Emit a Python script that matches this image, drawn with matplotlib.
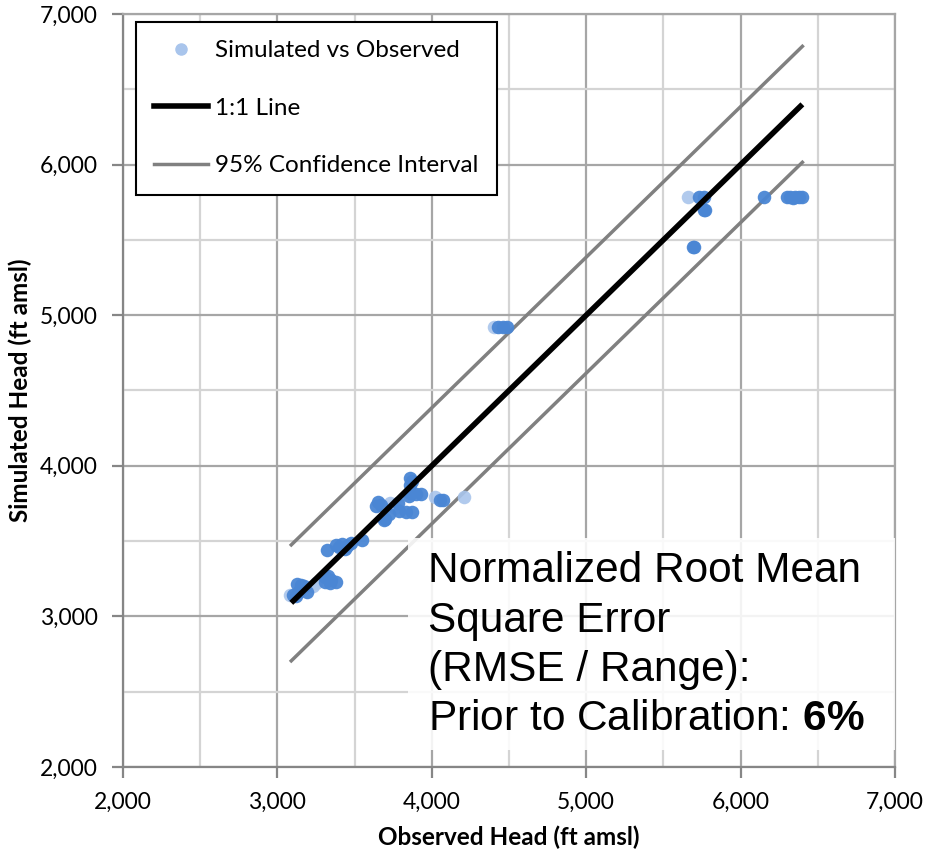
import matplotlib.pyplot as plt
from matplotlib.lines import Line2D
from matplotlib.patches import Rectangle
from matplotlib.ticker import MultipleLocator, FuncFormatter

plt.rcParams['mathtext.fontset'] = 'custom'
plt.rcParams['mathtext.rm'] = 'Liberation Sans'
plt.rcParams['mathtext.bf'] = 'Liberation Sans:bold'

# Observed / simulated heads (ft amsl)
obs_main = [3100, 3120, 3140, 3150, 3170, 3130, 3190, 3310, 3330, 3350, 3380, 3340, 3310,
            3320, 3380, 3420, 3450, 3440, 3400, 3550, 3480,
            3650, 3670, 3640, 3700, 3720, 3690, 3780, 3790, 3830, 3870, 3850, 3860, 3860,
            3860, 3870, 3930, 3900, 4050, 4070,
            4430, 4460, 4490,
            5730, 5760, 5770, 5760, 5690, 5700, 6150, 6300, 6320, 6350, 6380, 6400, 6340]
sim_main = [3140, 3135, 3170, 3210, 3200, 3215, 3160, 3260, 3265, 3240, 3230, 3225, 3230,
            3440, 3475, 3480, 3470, 3445, 3460, 3505, 3490,
            3760, 3740, 3730, 3650, 3680, 3640, 3750, 3700, 3695, 3695, 3800, 3820, 3870,
            3920, 3900, 3815, 3810, 3770, 3770,
            4920, 4920, 4920,
            5785, 5785, 5700, 5700, 5450, 5455, 5785, 5785, 5785, 5785, 5785, 5785, 5780]
obs_light = [3250, 3080, 3230, 3730, 3760, 4020, 4210, 4400, 5660]
sim_light = [3220, 3140, 3200, 3750, 3720, 3790, 3795, 4920, 5785]

line_x = [3090, 6400]
ci_offset = 385

x_ticks = [2000, 3000, 4000, 5000, 6000, 7000]
y_ticks = [2000, 3000, 4000, 5000, 6000, 7000]

fig = plt.figure(figsize=(9.33, 8.57), dpi=100)
ax = fig.add_axes([0.1318, 0.105, 0.8275, 0.8787])

blue = '#4a86d4'
light = '#a9c5ec'

ax.scatter(obs_light, sim_light, s=95, color=light, alpha=0.9, linewidths=0, zorder=3)
ax.scatter(obs_main, sim_main, s=95, color=blue, alpha=0.95, linewidths=0, zorder=4)

ax.plot(line_x, line_x, color='black', lw=4, zorder=5, solid_capstyle='butt')
ax.plot(line_x, [v + ci_offset for v in line_x], color='#808080', lw=2.5, zorder=2)
ax.plot(line_x, [v - ci_offset for v in line_x], color='#808080', lw=2.5, zorder=2)

ax.set_xlim(2000, 7000)
ax.set_ylim(2000, 7000)
ax.set_xticks(x_ticks)
ax.set_yticks(y_ticks)
ax.xaxis.set_minor_locator(MultipleLocator(500))
ax.yaxis.set_minor_locator(MultipleLocator(500))
fmt = FuncFormatter(lambda v, p: f'{int(v):,}')
ax.xaxis.set_major_formatter(fmt)
ax.yaxis.set_major_formatter(fmt)

ax.grid(True, which='major', color='#a6a6a6', lw=1.6)
ax.grid(True, which='minor', color='#d4d4d4', lw=1.6)
ax.set_axisbelow(True)
for side in ['top', 'right']:
    ax.spines[side].set_color('#a6a6a6')
    ax.spines[side].set_linewidth(1.6)
for side in ['left', 'bottom']:
    ax.spines[side].set_color('#868686')
    ax.spines[side].set_linewidth(1.6)
ax.tick_params(which='major', direction='out', length=8, width=1.6, color='#868686',
               labelsize=16.5, pad=10)
ax.tick_params(which='minor', length=0)
for lab in ax.get_xticklabels() + ax.get_yticklabels():
    lab.set_fontfamily('Lato')

ax.set_xlabel('Observed Head (ft amsl)', fontsize=17.5, fontweight='bold', family='Lato', labelpad=9)
ax.set_ylabel('Simulated Head (ft amsl)', fontsize=17.5, fontweight='bold', family='Lato', labelpad=6)

handles = [
    Line2D([], [], marker='o', ls='none', color=light, markersize=8),
    Line2D([], [], color='black', lw=4),
    Line2D([], [], color='#808080', lw=2.5),
]
labels = ['Simulated vs Observed', '1:1 Line', '95% Confidence Interval']
leg = ax.legend(handles, labels, loc='upper left', bbox_to_anchor=(0.017, 0.989),
                borderaxespad=0, fancybox=False, framealpha=1, edgecolor='black',
                prop={'family': 'Lato', 'size': 17.5}, labelspacing=1.5,
                handlelength=2.2, handletextpad=0.3, borderpad=0.75)
leg.get_frame().set_linewidth(1.5)
leg.set_zorder(6)

# semi-transparent box behind the annotation
ax.add_patch(Rectangle((0.369, 0.0226), 0.631, 0.281, transform=ax.transAxes,
                       facecolor='white', edgecolor='none', alpha=0.88, zorder=6))
ax.text(0.395, 0.037, 'Normalized Root Mean\nSquare Error\n(RMSE / Range):\nPrior to Calibration: $\\mathbf{6\\%}$',
        transform=ax.transAxes, fontsize=30.5, family='Liberation Sans', linespacing=1.3,
        va='bottom', ha='left', zorder=7)

fig.savefig('out.png', dpi=100)
